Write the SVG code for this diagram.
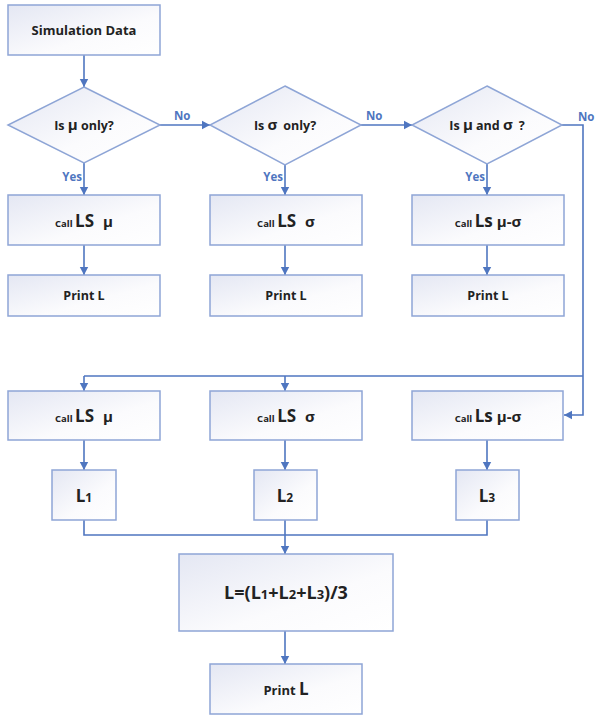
<svg xmlns="http://www.w3.org/2000/svg" width="599" height="717" viewBox="0 0 599 717">
<defs>
<linearGradient id="g" x1="0" y1="0" x2="1" y2="1">
<stop offset="0" stop-color="#e4e7f3"/>
<stop offset="0.6" stop-color="#fbfbfd"/>
<stop offset="1" stop-color="#ffffff"/>
</linearGradient>
<marker id="ah" markerWidth="10" markerHeight="10" refX="8" refY="5" orient="auto" markerUnits="userSpaceOnUse">
<path d="M0,0.8 L8,5 L0,9.2 Z" fill="#4f76c0"/>
</marker>
<style>
.box{fill:url(#g);stroke:#8ea5d6;stroke-width:1.5}
.t{font-family:"Open Sans","Liberation Sans",sans-serif;font-weight:700;fill:#222222;text-anchor:middle}
.lbl{font-family:"Open Sans","Liberation Sans",sans-serif;font-weight:700;fill:#4f76c0;font-size:11.5px}
.c{fill:none;stroke:#4f76c0;stroke-width:1.6}
.ca{fill:none;stroke:#4f76c0;stroke-width:1.6;marker-end:url(#ah)}
.small{font-size:9.5px}
.big{font-size:17px}
.gr{font-size:15px}
</style>
</defs>
<rect width="599" height="717" fill="#ffffff"/>

<g id="connectors">
<line class="ca" x1="84" y1="55" x2="84" y2="87"/>
<line class="ca" x1="84" y1="163" x2="84" y2="195"/>
<line class="ca" x1="160" y1="125" x2="210" y2="125"/>
<line class="ca" x1="285" y1="165" x2="285" y2="195"/>
<line class="ca" x1="361" y1="125" x2="412" y2="125"/>
<line class="ca" x1="487" y1="164" x2="487" y2="195"/>
<polyline class="ca" points="562,125 583,125 583,415 564,415"/>
<line class="ca" x1="84" y1="245" x2="84" y2="275"/>
<line class="ca" x1="285" y1="245" x2="285" y2="275"/>
<line class="ca" x1="487" y1="245" x2="487" y2="275"/>
<line class="c" x1="84" y1="376" x2="583" y2="376"/>
<line class="ca" x1="84" y1="376" x2="84" y2="391"/>
<line class="ca" x1="285" y1="376" x2="285" y2="391"/>
<line class="ca" x1="84" y1="440" x2="84" y2="470"/>
<line class="ca" x1="285" y1="440" x2="285" y2="470"/>
<line class="ca" x1="487" y1="440" x2="487" y2="470"/>
<polyline class="c" points="84,520 84,535 487,535 487,520"/>
<line class="ca" x1="285" y1="520" x2="285" y2="554"/>
<line class="ca" x1="285" y1="631" x2="285" y2="664"/>
<text class="lbl" x="82" y="181" text-anchor="end">Yes</text>
<text class="lbl" x="283" y="181" text-anchor="end">Yes</text>
<text class="lbl" x="485" y="181" text-anchor="end">Yes</text>
<text class="lbl" x="174" y="120">No</text>
<text class="lbl" x="366" y="120">No</text>
<text class="lbl" x="578" y="121">No</text>
</g>

<g id="sim">
<rect class="box" x="8" y="5" width="152" height="50"/>
<text class="t" x="84" y="35" font-size="13">Simulation Data</text>
</g>

<g id="d1">
<polygon class="box" points="84,87 160,125 84,163 8,125"/>
<text class="t" x="84" y="130" font-size="12.5">Is <tspan class="gr">μ</tspan> only?</text>
</g>
<g id="d2">
<polygon class="box" points="285,86 361,125 285,165 210,125"/>
<text class="t" x="285" y="130" font-size="12.5">Is <tspan class="gr">σ</tspan><tspan dx="6">only?</tspan></text>
</g>
<g id="d3">
<polygon class="box" points="487,86 562,125 487,164 412,125"/>
<text class="t" x="487" y="130" font-size="12.5">Is <tspan class="gr">μ</tspan> and <tspan class="gr">σ</tspan><tspan dx="6">?</tspan></text>
</g>

<g id="c1">
<rect class="box" x="8" y="195" width="152" height="50"/>
<text class="t" x="84" y="227"><tspan class="small">Call </tspan><tspan class="big">LS</tspan><tspan class="gr" dx="9">μ</tspan></text>
</g>
<g id="c2">
<rect class="box" x="210" y="195" width="152" height="50"/>
<text class="t" x="286" y="227"><tspan class="small">Call </tspan><tspan class="big">LS</tspan><tspan class="gr" dx="9">σ</tspan></text>
</g>
<g id="c3">
<rect class="box" x="412" y="195" width="152" height="50"/>
<text class="t" x="488" y="227"><tspan class="small">Call </tspan><tspan class="big">Ls</tspan><tspan class="gr" dx="4">μ-σ</tspan></text>
</g>

<g id="p1">
<rect class="box" x="8" y="275" width="152" height="41"/>
<text class="t" x="84" y="300" font-size="12.5">Print L</text>
</g>
<g id="p2">
<rect class="box" x="210" y="275" width="152" height="41"/>
<text class="t" x="286" y="300" font-size="12.5">Print L</text>
</g>
<g id="p3">
<rect class="box" x="412" y="275" width="152" height="41"/>
<text class="t" x="488" y="300" font-size="12.5">Print L</text>
</g>

<g id="c4">
<rect class="box" x="8" y="391" width="152" height="49"/>
<text class="t" x="84" y="422"><tspan class="small">Call </tspan><tspan class="big">LS</tspan><tspan class="gr" dx="9">μ</tspan></text>
</g>
<g id="c5">
<rect class="box" x="210" y="391" width="152" height="49"/>
<text class="t" x="286" y="422"><tspan class="small">Call </tspan><tspan class="big">LS</tspan><tspan class="gr" dx="9">σ</tspan></text>
</g>
<g id="c6">
<rect class="box" x="412" y="391" width="151" height="49"/>
<text class="t" x="488" y="422"><tspan class="small">Call </tspan><tspan class="big">Ls</tspan><tspan class="gr" dx="4">μ-σ</tspan></text>
</g>

<g id="l1">
<rect class="box" x="52" y="470" width="64" height="50"/>
<text class="t" x="84" y="502" font-size="17">L<tspan font-size="12">1</tspan></text>
</g>
<g id="l2">
<rect class="box" x="254" y="470" width="63" height="50"/>
<text class="t" x="285" y="502" font-size="17">L<tspan font-size="12">2</tspan></text>
</g>
<g id="l3">
<rect class="box" x="456" y="470" width="63" height="50"/>
<text class="t" x="487" y="502" font-size="17">L<tspan font-size="12">3</tspan></text>
</g>

<g id="avg">
<rect class="box" x="179" y="554" width="214" height="77"/>
<text class="t" x="286" y="599" font-size="18">L=(L<tspan font-size="13">1</tspan>+L<tspan font-size="13">2</tspan>+L<tspan font-size="13">3</tspan>)/3</text>
</g>

<g id="final">
<rect class="box" x="210" y="664" width="152" height="50"/>
<text class="t" x="286" y="695" font-size="13">Print <tspan font-size="17">L</tspan></text>
</g>
</svg>
